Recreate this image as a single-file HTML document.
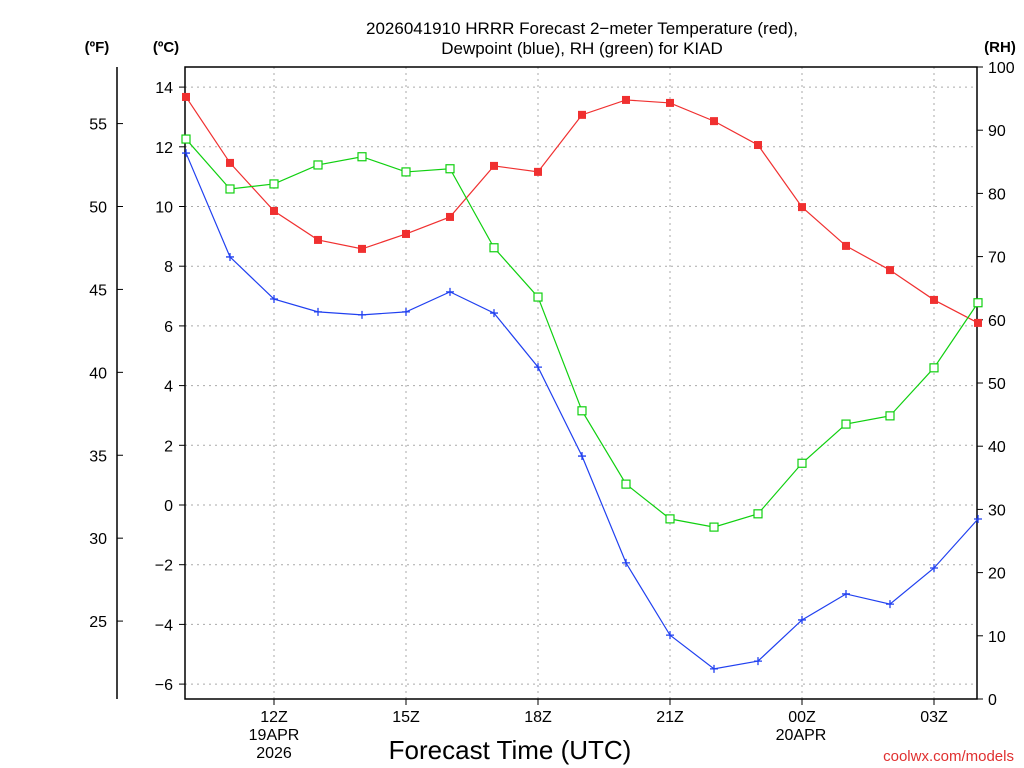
<!DOCTYPE html>
<html><head><meta charset="utf-8"><style>
html,body{margin:0;padding:0;background:#fff;}
svg{display:block;font-family:"Liberation Sans",sans-serif;}
</style></head><body>
<svg id="chart" width="1024" height="768" viewBox="0 0 1024 768">
<text x="582" y="34" font-size="17" text-anchor="middle">2026041910 HRRR Forecast 2−meter Temperature (red),</text>
<text x="582" y="54" font-size="17" text-anchor="middle">Dewpoint (blue), RH (green) for KIAD</text>
<text x="97" y="52" font-size="15" font-weight="bold" text-anchor="middle">(ºF)</text>
<text x="166" y="52" font-size="15" font-weight="bold" text-anchor="middle">(ºC)</text>
<text x="1000" y="52" font-size="15" font-weight="bold" text-anchor="middle">(RH)</text>
<g id="grid"></g>
<g id="axes"></g>
<g id="series"></g>
<text x="510" y="759" font-size="26" text-anchor="middle">Forecast Time (UTC)</text>
<text x="1014" y="761" font-size="15" fill="#e03030" text-anchor="end">coolwx.com/models</text>
</svg>
<script>
const hours=[10,11,12,13,14,15,16,17,18,19,20,21,22,23,24,25,26,27,28];
const tempC=[13.67,11.46,9.85,8.88,8.58,9.08,9.65,11.36,11.16,13.07,13.57,13.47,12.86,12.06,9.98,8.68,7.87,6.87,6.10];
const dewC=[11.79,8.31,6.90,6.47,6.37,6.47,7.14,6.43,4.62,1.64,-1.94,-4.36,-5.49,-5.23,-3.85,-2.98,-3.32,-2.11,-0.47];
const rh=[88.6,80.7,81.5,84.5,85.8,83.4,83.9,71.4,63.6,45.6,34.0,28.5,27.2,29.3,37.3,43.5,44.8,52.4,62.7];
const cTicks=[-6,-4,-2,0,2,4,6,8,10,12,14];
const fTicks=[25,30,35,40,45,50,55];
const rhTicks=[0,10,20,30,40,50,60,70,80,90,100];
const xTickHours=[12,15,18,21,24,27];
const xTickLabels=["12Z","15Z","18Z","21Z","00Z","03Z"];

const NS="http://www.w3.org/2000/svg";
const X0=186,PXH=44, L=185,R=977,T=67,B=699;
const xs=h=>X0+(h-10)*PXH;
const yC=c=>505-c*29.85;
const yF=f=>yC((f-32)*5/9);
const yR=v=>B-v*(B-T)/100;
function mk(tag,attrs,parent){const e=document.createElementNS(NS,tag);for(const k in attrs)e.setAttribute(k,attrs[k]);parent.appendChild(e);return e;}
const grid=document.getElementById('grid'),axes=document.getElementById('axes'),series=document.getElementById('series');

cTicks.forEach(c=>{const y=yC(c);
 const g=mk('line',{x1:L,x2:R,y1:y,y2:y,stroke:'#aaa','stroke-dasharray':'2,4'},grid);
 
 
 mk('line',{x1:L-6,x2:L,y1:y,y2:y,stroke:'#000'},axes);
 const t=mk('text',{x:L-12,y:y+6,'font-size':16,'text-anchor':'end'},axes);t.textContent=c<0?'−'+(-c):c;
 
 
});
xTickHours.forEach((h,i)=>{const x=xs(h);
 const g=mk('line',{x1:x,x2:x,y1:T,y2:B,stroke:'#aaa','stroke-dasharray':'2,4'},grid);
 
 
 mk('line',{x1:x,x2:x,y1:B,y2:B+6,stroke:'#000'},axes);
 const t=mk('text',{x:x,y:B+23,'font-size':16,'text-anchor':'middle'},axes);t.textContent=xTickLabels[i];
 
 
});
[["19APR",274,740],["2026",274,758],["20APR",801,740]].forEach(d=>{
 const t=mk('text',{x:d[1],y:d[2],'font-size':16,'text-anchor':'middle'},axes);t.textContent=d[0];
 
 
});
fTicks.forEach(f=>{const y=yF(f);
 mk('line',{x1:117,x2:123,y1:y,y2:y,stroke:'#000'},axes);
 const t=mk('text',{x:107,y:y+6,'font-size':16,'text-anchor':'end'},axes);t.textContent=f;
 
 
});
rhTicks.forEach(v=>{const y=yR(v);
 mk('line',{x1:R,x2:R+6,y1:y,y2:y,stroke:'#000'},axes);
 const t=mk('text',{x:R+11,y:y+6,'font-size':16},axes);t.textContent=v;
 
 
});
mk('line',{x1:117,x2:117,y1:T,y2:B,stroke:'#000','stroke-width':1.5},axes);
mk('rect',{x:L,y:T,width:R-L,height:B-T,fill:'none',stroke:'#000','stroke-width':1.5},axes);

function line(vals,yf,color,name){
 const pts=vals.map((v,i)=>xs(hours[i])+','+yf(v)).join(' ');
 const p=mk('polyline',{points:pts,fill:'none',stroke:color,'stroke-width':1.2},series);
 
 
}
line(tempC,yC,'#f03030','temperature-line');
line(dewC,yC,'#2040f0','dewpoint-line');
line(rh,yR,'#10d010','rh-line');
tempC.forEach((v,i)=>{const m=mk('rect',{x:xs(hours[i])-4,y:yC(v)-4,width:8,height:8,fill:'#f03030'},series);
 
 });
rh.forEach((v,i)=>{const m=mk('rect',{x:xs(hours[i])-4,y:yR(v)-4,width:8,height:8,fill:'#fff',stroke:'#10d010','stroke-width':1.2},series);
 
 });
dewC.forEach((v,i)=>{const x=xs(hours[i]),y=yC(v);
 const m=mk('path',{d:`M${x-4},${y}H${x+4}M${x},${y-4}V${y+4}`,stroke:'#2040f0','stroke-width':1.3},series);
 
 });
</script>
</body></html>
